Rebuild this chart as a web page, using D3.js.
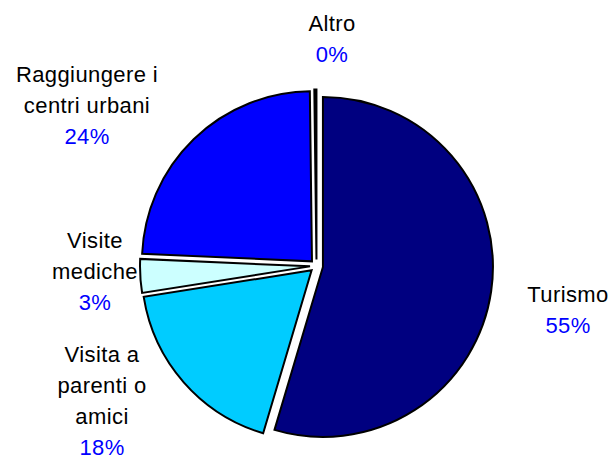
<!DOCTYPE html>
<html>
<head>
    <title>Motivi dello spostamento</title>
    <script src="https://cdn.jsdelivr.net/npm/d3@7"></script>
    <style>
        body { margin: 0; background: #fff; }
        svg text { font-family: "Liberation Sans", Arial, sans-serif; font-size: 22px; letter-spacing: 0.4px; }
        .slice { stroke: #000; stroke-width: 2px; stroke-linejoin: miter; }
        .name { fill: #000; }
        .pct { fill: #0000ff; }
    </style>
</head>
<body>
    <div id="chart"></div>
    <script>
        // Data (clockwise from 12 o'clock)
        var categories = ["Turismo", "Visita a parenti o amici", "Visite mediche", "Raggiungere i centri urbani", "Altro"];
        var values = [54.6, 17.9, 3.2, 24.1, 0.2];
        var percentLabels = ["55%", "18%", "3%", "24%", "0%"];
        // label text split in lines like the original
        var labelLines = [["Turismo"], ["Visita a", "parenti o", "amici"], ["Visite", "mediche"], ["Raggiungere i", "centri urbani"], ["Altro"]];
        var colors = ["#000080", "#00ccff", "#ccffff", "#0000ff", "#000000"];

        var width = 614, height = 462;
        var cx = 316.5, cy = 266, radius = 170, explode = 6.5;
        // where each label block sits (centre x, first baseline y)
        var labelAnchors = [[568, 302], [102, 362], [95, 248], [87, 82], [332, 31]];
        var lineHeight = 31;

        var svg = d3.select("#chart").append("svg")
            .attr("width", width)
            .attr("height", height);

        var g = svg.append("g").attr("transform", "translate(" + cx + "," + cy + ")");

        var pie = d3.pie().sort(null).value(d => d);
        var arc = d3.arc().innerRadius(0).outerRadius(radius);
        var arcs = pie(values);

        g.selectAll(".slice")
            .data(arcs)
            .enter().append("path")
            .attr("class", "slice")
            .attr("fill", (d, i) => colors[i])
            .attr("transform", function (d) {
                var a = (d.startAngle + d.endAngle) / 2;
                return "translate(" + (Math.sin(a) * explode) + "," + (-Math.cos(a) * explode) + ")";
            })
            .attr("d", arc);

        var labels = svg.selectAll(".label")
            .data(categories)
            .enter().append("text")
            .attr("class", "label")
            .attr("text-anchor", "middle");

        labels.each(function (name, i) {
            var t = d3.select(this);
            var x = labelAnchors[i][0], y = labelAnchors[i][1];
            labelLines[i].forEach(function (line, j) {
                t.append("tspan").attr("class", "name")
                    .attr("x", x).attr("y", y + j * lineHeight)
                    .text(line);
            });
            t.append("tspan").attr("class", "pct")
                .attr("x", x).attr("y", y + labelLines[i].length * lineHeight)
                .text(percentLabels[i]);
        });
    </script>
</body>
</html>
